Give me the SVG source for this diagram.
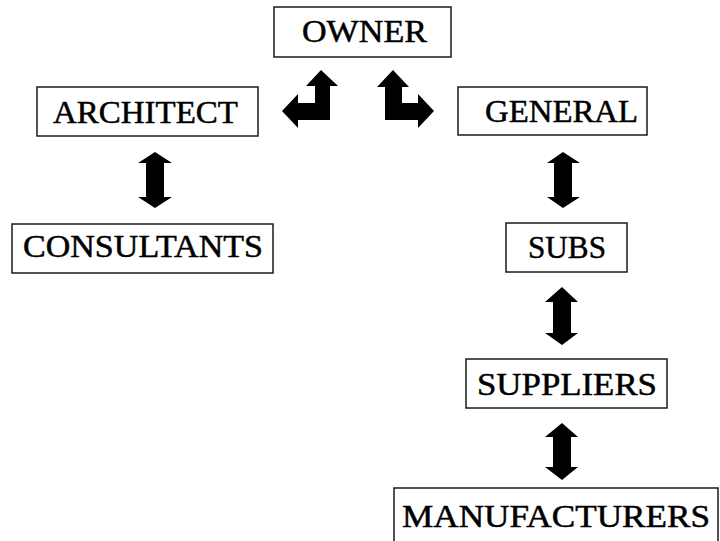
<svg xmlns="http://www.w3.org/2000/svg" width="720" height="541" viewBox="0 0 720 541">
<style>
.box{fill:#fff;stroke:#1a1a1a;stroke-width:1.5}
.lbl{font-family:"Liberation Serif","Times New Roman",serif;font-size:31px;fill:#000;stroke:#000;stroke-width:0.5}
.arr{fill:#000;stroke:none}
</style>
<rect width="720" height="541" fill="#fff"/>
<g id="connectors">
<polygon class="arr" points="321,70 338,86 330,86 330,120 298,120 298,128 282,111 298,94 298,103 315,103 315,86 306,86"/>
<polygon class="arr" points="393,70 409,87 402,87 402,103 418,103 418,94 434,111 418,128 418,120 385,120 385,87 377,87"/>
<polygon class="arr" points="155,152 172,163 164,163 164,197 172,197 155,208 138,197 146,197 146,163 138,163"/>
<polygon class="arr" points="563,152 580,163 572,163 572,197 580,197 563,208 547,197 554,197 554,163 547,163"/>
<polygon class="arr" points="562,287 578,302 571,302 571,333 578,333 562,345 545,333 553,333 553,302 545,302"/>
<polygon class="arr" points="562,423 578,437 571,437 571,467 578,467 562,480 545,467 553,467 553,437 545,437"/>
</g>
<g id="owner"><rect class="box" x="274" y="7" width="177" height="50"/><text class="lbl" x="302" y="42" textLength="125" lengthAdjust="spacingAndGlyphs">OWNER</text></g>
<g id="architect"><rect class="box" x="37" y="87" width="221" height="49"/><text class="lbl" x="53" y="122.5" textLength="185" lengthAdjust="spacingAndGlyphs">ARCHITECT</text></g>
<g id="general"><rect class="box" x="458" y="87" width="189" height="48"/><text class="lbl" x="485" y="122" textLength="153" lengthAdjust="spacingAndGlyphs">GENERAL</text></g>
<g id="consultants"><rect class="box" x="12" y="224" width="261" height="49"/><text class="lbl" x="23" y="257" textLength="240" lengthAdjust="spacingAndGlyphs">CONSULTANTS</text></g>
<g id="subs"><rect class="box" x="506" y="223" width="121" height="49"/><text class="lbl" x="528" y="257.5" textLength="78" lengthAdjust="spacingAndGlyphs">SUBS</text></g>
<g id="suppliers"><rect class="box" x="466" y="359" width="201" height="49"/><text class="lbl" x="477" y="395" textLength="180" lengthAdjust="spacingAndGlyphs">SUPPLIERS</text></g>
<g id="manufacturers"><rect class="box" x="394" y="488" width="324" height="60"/><text class="lbl" x="402" y="527" textLength="308" lengthAdjust="spacingAndGlyphs">MANUFACTURERS</text></g>
</svg>
